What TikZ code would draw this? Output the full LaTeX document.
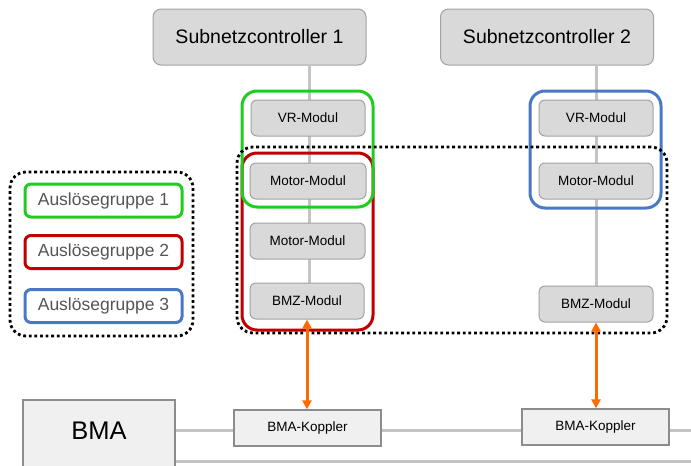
\documentclass[tikz,border=0pt]{standalone}
\usepackage{fontspec}
\setmainfont{Liberation Sans}
\usetikzlibrary{arrows.meta}
\definecolor{boxfill}{HTML}{D9D9D9}
\definecolor{boxline}{HTML}{A3A3A3}
\definecolor{kfill}{HTML}{F0F0F0}
\definecolor{kline}{HTML}{8C8C8C}
\definecolor{busline}{HTML}{C4C4C4}
\definecolor{grpgreen}{HTML}{1FCC1F}
\definecolor{grpred}{HTML}{C00000}
\definecolor{grpblue}{HTML}{4A78C8}
\definecolor{arrorange}{HTML}{FF6A00}
\definecolor{legtext}{HTML}{555555}
\tikzset{
  ctrl/.style={draw=boxline, fill=boxfill, line width=1pt, rounded corners=8pt,
    minimum width=213pt, minimum height=56pt, inner sep=0pt, font=\fontsize{19.5}{20}\selectfont},
  modul/.style={draw=boxline, fill=boxfill, line width=1pt, rounded corners=6pt,
    minimum width=114pt, minimum height=36pt, inner sep=0pt, font=\fontsize{13.5}{14}\selectfont},
  koppler/.style={draw=kline, fill=kfill, line width=1.3pt,
    minimum width=147pt, minimum height=36pt, inner sep=0pt, font=\fontsize{13.5}{14}\selectfont},
  grp/.style={line width=3pt, rounded corners=15pt, inner sep=0pt},
  dotbox/.style={draw=black, line width=2.8pt, dash pattern=on 2.8pt off 2.8pt, rounded corners=16pt, inner sep=0pt},
  leg/.style={line width=3pt, rounded corners=6pt, inner sep=0pt, minimum width=157pt,
    minimum height=33pt, text=legtext, font=\fontsize{17.5}{18}\selectfont},
  bus/.style={draw=busline, line width=3pt},
  link/.style={draw=arrorange, line width=3pt, {Triangle[length=9pt,width=9pt]}-{Triangle[length=9pt,width=9pt]}}
}
\begin{document}
\begin{tikzpicture}[x=1pt,y=-1pt]
\clip (0,0) rectangle (691,466);
\fill[white] (0,0) rectangle (691,466);

% controllers
\node[ctrl] (sc1) at (259.5,37) {Subnetzcontroller 1};
\node[ctrl] (sc2) at (547,37) {Subnetzcontroller 2};

% module positions (coordinates for lines)
\coordinate (c1top) at (309,65);
\coordinate (c2top) at (596,65);

% vertical bus lines
\draw[bus] (c1top) -- (309,290);
\draw[bus] (c2top) -- (596,290);

% modules column 1
\node[modul] (vr1) at (308,118) {VR-Modul};
\node[modul, minimum width=116pt] (mm1) at (308,181) {Motor-Modul};
\node[modul, minimum width=115pt] (mm2) at (307.5,241) {Motor-Modul};
\node[modul] (bmz1) at (307,301) {BMZ-Modul};

% modules column 2
\node[modul] (vr2) at (596,118) {VR-Modul};
\node[modul] (mm3) at (596,181) {Motor-Modul};
\node[modul] (bmz2) at (596,304) {BMZ-Modul};

% groups
\node[grp, draw=grpred, minimum width=131pt, minimum height=177pt] (g2) at (307.5,241.5) {};
\node[grp, draw=grpgreen, minimum width=131pt, minimum height=116pt] (g1) at (307.5,149) {};
\node[grp, draw=grpblue, minimum width=131pt, minimum height=117pt] (g3) at (595.5,149.5) {};

% dotted big group
\node[dotbox, minimum width=430pt, minimum height=186pt] (dg) at (452,240) {};

% legend
\node[dotbox, minimum width=183pt, minimum height=164pt] (legbox) at (101.5,254) {};
\node[leg, draw=grpgreen] (l1) at (103.5,200.5) {Auslösegruppe 1\hspace{8pt}};
\node[leg, draw=grpred] (l2) at (103.5,252) {Auslösegruppe 2\hspace{8pt}};
\node[leg, draw=grpblue] (l3) at (103.5,306) {Auslösegruppe 3\hspace{8pt}};

% BMA and couplers
\node[draw=kline, fill=kfill, line width=1.5pt, minimum width=152pt, minimum height=70pt, inner sep=0pt] (bma) at (99,435) {};
\node[font=\fontsize{25.5}{26}\selectfont, inner sep=0pt] (bmalabel) at (99,431) {BMA};
\node[koppler] (k1) at (307.5,428) {BMA-Koppler};
\node[koppler] (k2) at (595.5,427) {BMA-Koppler};
\coordinate (busend1) at (691,430);
\coordinate (busend2) at (691,461);

\draw[bus] (bma.east |- 0,430) -- (k1.west |- 0,430);
\draw[bus] (k1.east |- 0,430) -- (k2.west |- 0,430);
\draw[bus] (k2.east |- 0,430) -- (busend1);
\draw[bus] (bma.east |- 0,461) -- (busend2);

% orange links
\draw[link] (bmz1.south) -- (bmz1.south |- k1.north);
\draw[link] (bmz2.south) -- (bmz2.south |- k2.north);
\end{tikzpicture}
\end{document}
